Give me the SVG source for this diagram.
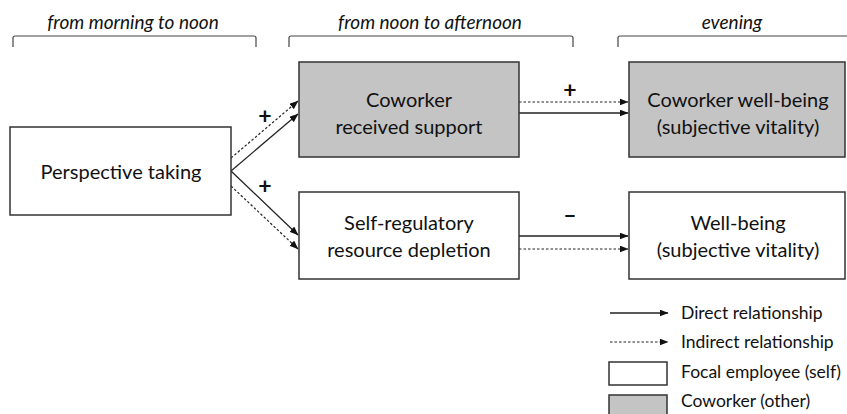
<svg xmlns="http://www.w3.org/2000/svg" width="847" height="414" viewBox="0 0 847 414">
<defs>
<marker id="ah" markerWidth="9" markerHeight="7" refX="8.5" refY="3.5" orient="auto" markerUnits="userSpaceOnUse">
<path d="M0,0 L9,3.5 L0,7 Z" fill="#111"/>
</marker>
<style>
.box{stroke:#333;stroke-width:1.5}
.self{fill:#fff}
.other{fill:#c4c4c4}
.t{font-family:Lato,"Open Sans",sans-serif;font-size:20px;fill:#111;text-anchor:middle}
.h{font-family:Lato,"Open Sans",sans-serif;font-size:19px;font-style:italic;fill:#111;text-anchor:middle}
.lg{font-family:Lato,"Open Sans",sans-serif;font-size:17.5px;fill:#111}
.sign{font-family:Lato,"Open Sans",sans-serif;font-size:23px;font-weight:bold;fill:#111;text-anchor:middle}
.br{fill:none;stroke:#444;stroke-width:1.2}
.solid{stroke:#222;stroke-width:1.3;fill:none}
.dash{stroke:#222;stroke-width:1.2;stroke-dasharray:2.5,2;fill:none}
</style>
</defs>
<g id="headers">
<text class="h" x="133" y="29">from morning to noon</text>
<text class="h" x="430" y="29">from noon to afternoon</text>
<text class="h" x="732" y="29">evening</text>
<path class="br" d="M13,47 V38 Q13,36 15,36 H254 Q256,36 256,38 V47"/>
<path class="br" d="M289,47 V38 Q289,36 291,36 H571 Q573,36 573,38 V47"/>
<path class="br" d="M618,47 V38 Q618,36 620,36 H850"/>
</g>
<g id="connectors">
<line class="dash" x1="231" y1="158" x2="298" y2="101" marker-end="url(#ah)"/>
<line class="solid" x1="231" y1="171" x2="298" y2="114" marker-end="url(#ah)"/>
<line class="solid" x1="231" y1="171" x2="298" y2="235" marker-end="url(#ah)"/>
<line class="dash" x1="231" y1="186" x2="298" y2="249" marker-end="url(#ah)"/>
<line class="dash" x1="519" y1="102" x2="628" y2="102" marker-end="url(#ah)"/>
<line class="solid" x1="519" y1="113" x2="628" y2="113" marker-end="url(#ah)"/>
<line class="solid" x1="519" y1="236" x2="628" y2="236" marker-end="url(#ah)"/>
<line class="dash" x1="519" y1="249" x2="628" y2="249" marker-end="url(#ah)"/>
<text class="sign" x="265" y="124">+</text>
<text class="sign" x="265" y="194">+</text>
<text class="sign" x="570" y="98">+</text>
<text class="sign" x="570" y="223">–</text>
</g>
<g id="perspective-taking">
<rect class="box self" x="10" y="127" width="221" height="88"/>
<text class="t" x="121" y="179">Perspective taking</text>
</g>
<g id="coworker-received-support">
<rect class="box other" x="299" y="62" width="220" height="95"/>
<text class="t" x="409" y="107">Coworker</text>
<text class="t" x="409" y="134">received support</text>
</g>
<g id="self-regulatory-depletion">
<rect class="box self" x="299" y="192" width="220" height="87"/>
<text class="t" x="409" y="230">Self-regulatory</text>
<text class="t" x="409" y="257">resource depletion</text>
</g>
<g id="coworker-well-being">
<rect class="box other" x="629" y="62" width="216" height="95"/>
<text class="t" x="738" y="107">Coworker well-being</text>
<text class="t" x="738" y="134">(subjective vitality)</text>
</g>
<g id="well-being">
<rect class="box self" x="629" y="192" width="216" height="87"/>
<text class="t" x="738" y="230">Well-being</text>
<text class="t" x="738" y="257">(subjective vitality)</text>
</g>
<g id="legend">
<line class="solid" x1="610" y1="313" x2="668" y2="313" marker-end="url(#ah)"/>
<text class="lg" x="681" y="319">Direct relationship</text>
<line class="dash" x1="610" y1="342" x2="668" y2="342" marker-end="url(#ah)"/>
<text class="lg" x="681" y="348">Indirect relationship</text>
<rect class="box self" x="609" y="362" width="58" height="23"/>
<text class="lg" x="681" y="378">Focal employee (self)</text>
<rect class="box other" x="609" y="395" width="58" height="24"/>
<text class="lg" x="681" y="407">Coworker (other)</text>
</g>
</svg>
